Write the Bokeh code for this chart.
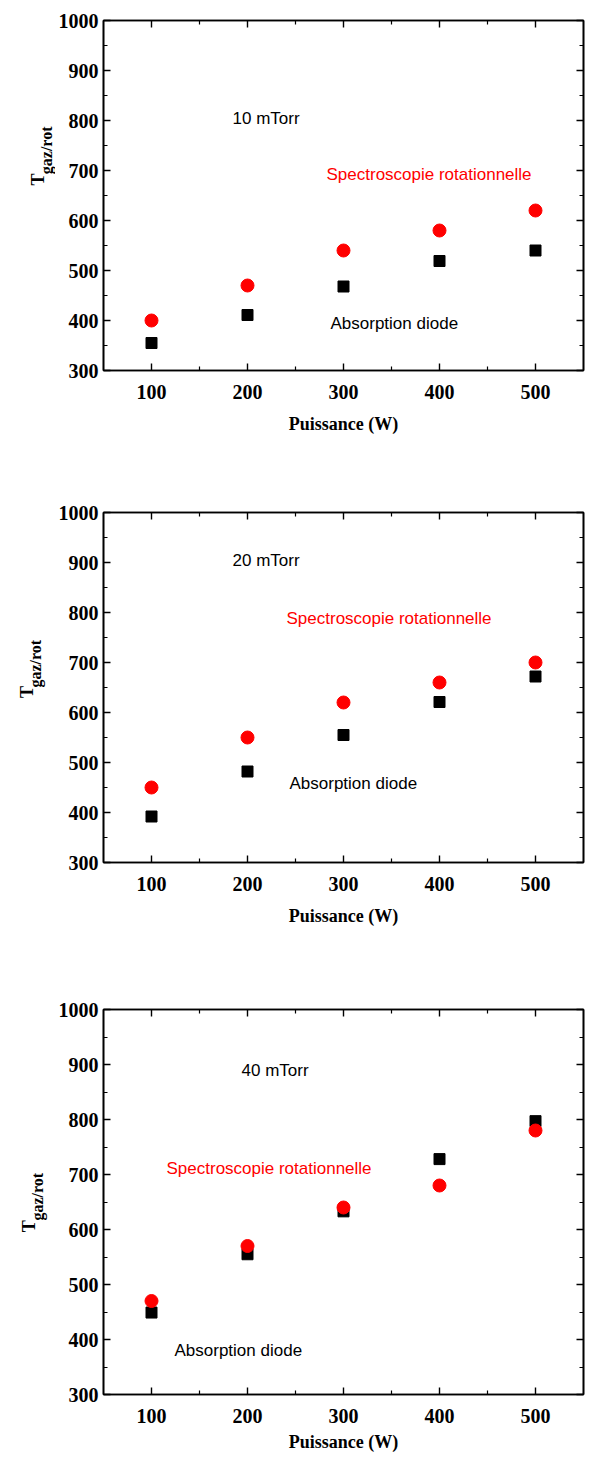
import math
from bokeh.plotting import figure
from bokeh.layouts import column, row
from bokeh.models import (LinearAxis, FixedTicker, Label, ColumnDataSource,
                          Range1d, CustomLabelingPolicy)
from bokeh.core.properties import value
from bokeh.embed import file_html
from bokeh.resources import INLINE

# ---------------- data ----------------
power = [100, 200, 300, 400, 500]

spec_10 = [400, 470, 540, 580, 620]
diode_10 = [355, 411, 468, 519, 540]

spec_20 = [450, 550, 620, 660, 700]
diode_20 = [392, 482, 555, 621, 672]

spec_40 = [470, 570, 640, 680, 780]
diode_40 = [449, 555, 633, 728, 797]

pressures = ["10 mTorr", "20 mTorr", "40 mTorr"]
x_ticks = [100, 200, 300, 400, 500]
x_minor = [150, 250, 350, 450]
y_ticks = [300, 400, 500, 600, 700, 800, 900, 1000]
y_minor = [350, 450, 550, 650, 750, 850, 950]

x_title = "Puissance (W)"
y_title_main = "T"
y_title_sub = "gaz/rot"
label_spec = "Spectroscopie rotationnelle"
label_diode = "Absorption diode"

SERIF = "Liberation Serif"
SANS = "Liberation Sans"

LEFT_W = 55          # width of the strip holding the y title
MAIN_BORDER_LEFT = 48
FRAME_LEFT_PAGE = LEFT_W + MAIN_BORDER_LEFT
FRAME_W = 480
X0, X1 = 50, 550
Y0, Y1 = 300, 1000

hide_all = CustomLabelingPolicy(
    code="for (const i of Array.from(indices)) { indices.unset(i) }\nreturn indices")


def style_axis(ax, ticks, minor, show_labels=True):
    ax.ticker = FixedTicker(ticks=ticks, minor_ticks=minor)
    ax.axis_line_width = 1.6
    ax.axis_line_color = "black"
    ax.major_tick_in = 7
    ax.major_tick_out = 0
    ax.minor_tick_in = 4
    ax.minor_tick_out = 0
    ax.major_tick_line_width = 1.4
    ax.minor_tick_line_width = 1.2
    ax.major_tick_line_color = "black"
    ax.minor_tick_line_color = "black"
    if show_labels:
        ax.major_label_text_font = SERIF
        ax.major_label_text_font_style = "bold"
        ax.major_label_text_font_size = "20px"
        ax.major_label_text_color = "black"
    else:
        ax.major_label_text_font_size = "0px"
        ax.major_label_standoff = 0
        ax.major_label_policy = hide_all


def make_panel(spec, diode, pressure, page_top, border_top, frame_h,
               border_bottom, pos):
    H = border_top + frame_h + border_bottom
    p = figure(frame_width=FRAME_W, frame_height=frame_h,
               x_range=Range1d(X0, X1), y_range=Range1d(Y0, Y1),
               output_backend="svg", toolbar_location=None,
               min_border_left=MAIN_BORDER_LEFT, min_border_right=3,
               min_border_top=border_top, min_border_bottom=border_bottom,
               background_fill_color="white", border_fill_color="white")
    p.xgrid.visible = False
    p.ygrid.visible = False
    p.outline_line_color = "black"
    p.outline_line_width = 1.6

    frame_top_page = page_top + border_top

    def to_data(px, py):
        x = X0 + (px - FRAME_LEFT_PAGE) / FRAME_W * (X1 - X0)
        y = Y1 - (py - frame_top_page) / frame_h * (Y1 - Y0)
        return x, y

    xa = p.xaxis[0]
    style_axis(xa, x_ticks, x_minor)
    xa.major_label_standoff = 14
    xa.axis_label = x_title
    xa.axis_label_text_font = SERIF
    xa.axis_label_text_font_style = "bold"
    xa.axis_label_text_font_size = "18px"
    xa.axis_label_text_color = "black"
    xa.axis_label_standoff = pos["xlab_standoff"]

    ya = p.yaxis[0]
    style_axis(ya, y_ticks, y_minor)
    ya.major_label_standoff = 5

    top = LinearAxis()
    style_axis(top, x_ticks, x_minor, show_labels=False)
    p.add_layout(top, "above")
    right = LinearAxis()
    style_axis(right, y_ticks, y_minor, show_labels=False)
    p.add_layout(right, "right")

    src_d = ColumnDataSource(dict(x=power, y=diode))
    src_s = ColumnDataSource(dict(x=power, y=spec))
    p.scatter("x", "y", source=src_d, marker="square", size=11,
              fill_color="black", line_color="black")
    p.scatter("x", "y", source=src_s, marker="circle", size=13,
              fill_color="#ff0000", line_color="#ff0000")

    for key, txt, col in (("pressure", pressure, "black"),
                          ("spec", label_spec, "#ff0000"),
                          ("diode", label_diode, "black")):
        lx, ly = to_data(*pos[key])
        p.add_layout(Label(x=lx, y=ly, text=txt, text_font=SANS,
                           text_font_size="17px", text_align="left",
                           text_baseline="middle", text_color=col))

    # left strip with the rotated y title (T with subscript)
    lf = figure(width=LEFT_W, height=H, x_range=Range1d(0, LEFT_W),
                y_range=Range1d(0, H), x_axis_type=None, y_axis_type=None,
                min_border=0, outline_line_color=None,
                output_backend="svg", toolbar_location=None,
                background_fill_color="white", border_fill_color="white")
    lf.xgrid.visible = False
    lf.ygrid.visible = False
    tx, ty = pos["T"]
    sx, sy = pos["sub"]
    lf.text(x=[tx], y=[H - (ty - page_top)], text=[y_title_main],
            angle=90, angle_units="deg", text_font=value(SERIF),
            text_font_style="bold", text_font_size="18px",
            text_align="left", text_baseline="alphabetic",
            text_color="black")
    lf.text(x=[sx], y=[H - (sy - page_top)], text=[y_title_sub],
            angle=90, angle_units="deg", text_font=value(SERIF),
            text_font_style="bold", text_font_size="16px",
            text_align="left", text_baseline="alphabetic",
            text_color="black")
    return row(lf, p, spacing=0)


p1 = make_panel(spec_10, diode_10, pressures[0], page_top=0, border_top=20,
                frame_h=350, border_bottom=90,
                pos=dict(T=(37, 217), sub=(46, 202),
                         pressure=(232, 118), spec=(326, 174),
                         diode=(330, 323), xlab_standoff=12))
p2 = make_panel(spec_20, diode_20, pressures[1], page_top=460, border_top=52,
                frame_h=350, border_bottom=98,
                pos=dict(T=(26, 725), sub=(35, 710),
                         pressure=(232, 560), spec=(286, 618),
                         diode=(289, 783), xlab_standoff=12))
p3 = make_panel(spec_40, diode_40, pressures[2], page_top=960, border_top=49,
                frame_h=385, border_bottom=64,
                pos=dict(T=(28, 1248), sub=(37, 1233),
                         pressure=(241, 1070), spec=(166, 1168),
                         diode=(174, 1350), xlab_standoff=6))

layout = column(p1, p2, p3, spacing=0)

open("out.html", "w").write(file_html(layout, INLINE))
